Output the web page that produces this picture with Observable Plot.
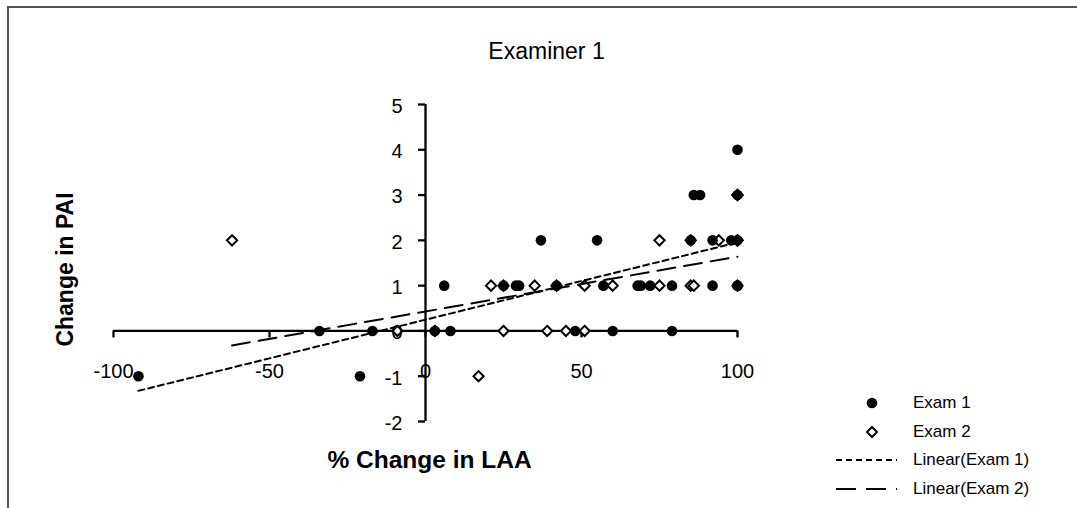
<!DOCTYPE html>
<html><head><meta charset="utf-8">
<script src="https://cdn.jsdelivr.net/npm/d3@7"></script>
<script src="https://cdn.jsdelivr.net/npm/@observablehq/plot@0.6"></script>
<style>
body{margin:0;background:#fff;font-family:"Liberation Sans",Arial,sans-serif;}
#wrap{position:relative;width:1077px;height:508px;overflow:hidden;background:#fff;}
#border{position:absolute;left:7px;top:6px;width:1200px;height:700px;border-left:2px solid #555;border-top:2px solid #555;}
#chart{position:absolute;left:0;top:0;}
#legend{position:absolute;left:836px;top:389px;font-size:17px;color:#000;}
.row{display:flex;align-items:center;height:28.5px;white-space:nowrap;}
.row svg{width:72px;height:20px;margin-right:5px;flex:none;}
</style></head>
<body><div id="wrap"><div id="border"></div><div id="chart"></div><div id="legend"></div></div>
<script>
// Exam 1 (filled circles) — overlapping points at 100% included
const exam1X = [-92, -21, -34, -17, 3, 8, 48, 60, 79, 6, 25, 29, 30, 42, 57, 68, 69, 72, 79, 92, 100, 100, 37, 55, 85, 92, 98, 100, 86, 88, 100, 100];
const exam1Y = [-1, -1, 0, 0, 0, 0, 0, 0, 0, 1, 1, 1, 1, 1, 1, 1, 1, 1, 1, 1, 1, 1, 2, 2, 2, 2, 2, 2, 3, 3, 3, 4];
// Exam 2 (open diamonds) — overlapping points at 100% included
const exam2X = [17, -9, 3, 25, 39, 45, 51, 21, 25, 35, 42, 51, 60, 75, 85, 86, 100, -62, 75, 85, 94, 100, 100, 100, 100];
const exam2Y = [-1, 0, 0, 0, 0, 0, 0, 1, 1, 1, 1, 1, 1, 1, 1, 1, 1, 2, 2, 2, 2, 2, 2, 3, 3];
const xTicks = [-100, -50, 0, 50, 100];
const yTicks = [-2, -1, 0, 1, 2, 3, 4, 5];
const seriesNames = ["Exam 1", "Exam 2", "Linear(Exam 1)", "Linear(Exam 2)"];
const chartTitle = "Examiner 1";
const xLabel = "% Change in LAA";
const yLabel = "Change in PAI";

const exam1 = exam1X.map((x, i) => ({x, y: exam1Y[i]}));
const exam2 = exam2X.map((x, i) => ({x, y: exam2Y[i]}));
const xDomain = [d3.min(xTicks), d3.max(xTicks)];
const yDomain = [d3.min(yTicks), d3.max(yTicks)];
const font = '"Liberation Sans", Arial, sans-serif';

const chart = Plot.plot({
  width: 1077, height: 508,
  marginLeft: 113, marginRight: 340, marginTop: 104, marginBottom: 87,
  x: {domain: xDomain, axis: null},
  y: {domain: yDomain, axis: null},
  style: {fontFamily: font, background: "transparent", color: "black", overflow: "visible"},
  marks: [
    Plot.ruleY([0], {x1: () => xDomain[0], x2: () => xDomain[1], stroke: "black", strokeWidth: 2.3}),
    Plot.ruleX([0], {y1: () => yDomain[0], y2: () => yDomain[1], stroke: "black", strokeWidth: 2.3}),
    Plot.ruleX(xTicks, {x: d => d, y1: () => 0, y2: () => 0, insetBottom: -7, stroke: "black", strokeWidth: 2.3}),
    Plot.ruleY(yTicks, {y: d => d, x1: () => 0, x2: () => 0, insetLeft: -7, stroke: "black", strokeWidth: 2.3}),
    Plot.dot(exam2, {x: "x", y: "y", symbol: "diamond2", r: 4.6, fill: "white", stroke: "black", strokeWidth: 2}),
    Plot.dot(exam1, {x: "x", y: "y", r: 5.3, fill: "black", stroke: "none"}),
    Plot.linearRegressionY(exam1, {x: "x", y: "y", ci: 0, stroke: "black", strokeWidth: 2, strokeDasharray: "6,4"}),
    Plot.linearRegressionY(exam2, {x: "x", y: "y", ci: 0, stroke: "black", strokeWidth: 2, strokeDasharray: "18,9"}),
    Plot.text(xTicks, {x: d => d, y: () => 0, dy: 41, text: d => String(d), fontSize: 20, lineAnchor: "middle", textAnchor: "middle"}),
    Plot.text(yTicks, {x: () => 0, y: d => d, dx: -23, dy: 2, text: d => String(d), fontSize: 20, textAnchor: "end", lineAnchor: "middle"}),
    Plot.text([chartTitle], {frameAnchor: "top", dx: 121, dy: -53, text: d => d, fontSize: 23, lineAnchor: "middle", textAnchor: "middle"}),
    Plot.text([xLabel], {frameAnchor: "bottom", dx: 4, dy: 39, text: d => d, fontSize: 24.5, fontWeight: "bold", lineAnchor: "middle", textAnchor: "middle"}),
    Plot.text([yLabel], {frameAnchor: "left", dx: -48, dy: 6.5, rotate: -90, text: d => d, fontSize: 23, fontWeight: "bold", lineAnchor: "middle", textAnchor: "middle"})
  ]
});
document.getElementById("chart").appendChild(chart);

// Legend
const swatches = [
  '<circle cx="36" cy="10" r="5.3" fill="black"/>',
  '<path d="M36,5 L41,10 L36,15 L31,10Z" fill="white" stroke="black" stroke-width="2"/>',
  '<line x1="0" x2="61" y1="10" y2="10" stroke="black" stroke-width="2" stroke-dasharray="6,4"/>',
  '<line x1="0" x2="61" y1="10" y2="10" stroke="black" stroke-width="2" stroke-dasharray="20,10"/>'
];
const legend = document.getElementById("legend");
seriesNames.forEach((name, i) => {
  const row = document.createElement("div");
  row.className = "row";
  row.innerHTML = `<svg viewBox="0 0 72 20">${swatches[i]}</svg><span>${name}</span>`;
  legend.appendChild(row);
});
</script>
</body></html>
